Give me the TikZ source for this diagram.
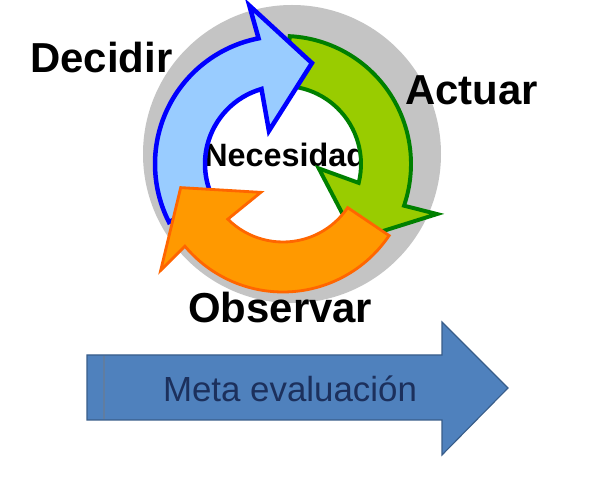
\documentclass[tikz,border=0pt]{standalone}
\usepackage{fontspec}
\setmainfont{Liberation Sans}
\definecolor{ringgray}{RGB}{196,196,196}
\definecolor{decidefill}{RGB}{153,204,255}
\definecolor{decideline}{RGB}{0,0,255}
\definecolor{actfill}{RGB}{153,204,0}
\definecolor{actline}{RGB}{0,128,0}
\definecolor{observefill}{RGB}{255,153,0}
\definecolor{observeline}{RGB}{255,102,0}
\definecolor{metafill}{RGB}{79,129,189}
\definecolor{metaline}{RGB}{56,93,138}
\definecolor{metatext}{RGB}{28,48,92}

% one curved arrow of the cycle, turned round the ring centre
\newcommand{\cyclearrow}[2]{%
  \begin{scope}[shift={(ring)}, rotate=#1]
    \draw[#2] (207:128) arc[start angle=207, end angle=101, radius=128]
      -- (102:162) -- (74:105) -- (113:36) -- (106:78)
      arc[start angle=106, end angle=207, radius=78] -- cycle;
  \end{scope}}

\begin{document}
\begin{tikzpicture}[
        x=0.025cm, y=0.025cm,
        decidearrow/.style={fill=decidefill, draw=decideline, line width=3.2pt, line join=miter},
        actarrow/.style={fill=actfill, draw=actline, line width=2.8pt, line join=miter},
        observearrow/.style={fill=observefill, draw=observeline, line width=2pt, line join=miter},
        phase/.style={inner sep=0pt, anchor=base west, font=\fontsize{29.8}{32}\selectfont\bfseries}
    ]
        \useasboundingbox[fill=white] (0,0) rectangle (594,480);
        \coordinate (ring) at (283,316);

        % ring background
        \fill[ringgray] (292,326) circle[radius=149];
        \fill[white] (ring) circle[radius=78];
        \node[inner sep=0pt, anchor=base west, font=\fontsize{23}{24}\selectfont\bfseries] (need) at (204,313) {Necesidad};

        % the three steps
        \cyclearrow{-120}{actarrow}
        \cyclearrow{0}{decidearrow}
        \cyclearrow{119}{observearrow}

        \node[phase] (decide) at (30,407) {Decidir};
        \node[phase] (act) at (405,375) {Actuar};
        \node[phase] (observe) at (188,157) {Observar};

        % meta evaluation arrow
        \draw[fill=metafill, draw=metaline, line width=0.8pt, line join=miter]
            (87,60) -- (87,125) -- (442,125) -- (442,158) -- (508,92) -- (442,25) -- (442,60) -- cycle;
        \draw[metaline!80, line width=0.8pt] (104,61) -- (104,124);
        \node[metatext, inner sep=0pt, anchor=base, font=\fontsize{24.8}{26}\selectfont] (meta) at (290,78) {Meta evaluación};
    \end{tikzpicture}
\end{document}
